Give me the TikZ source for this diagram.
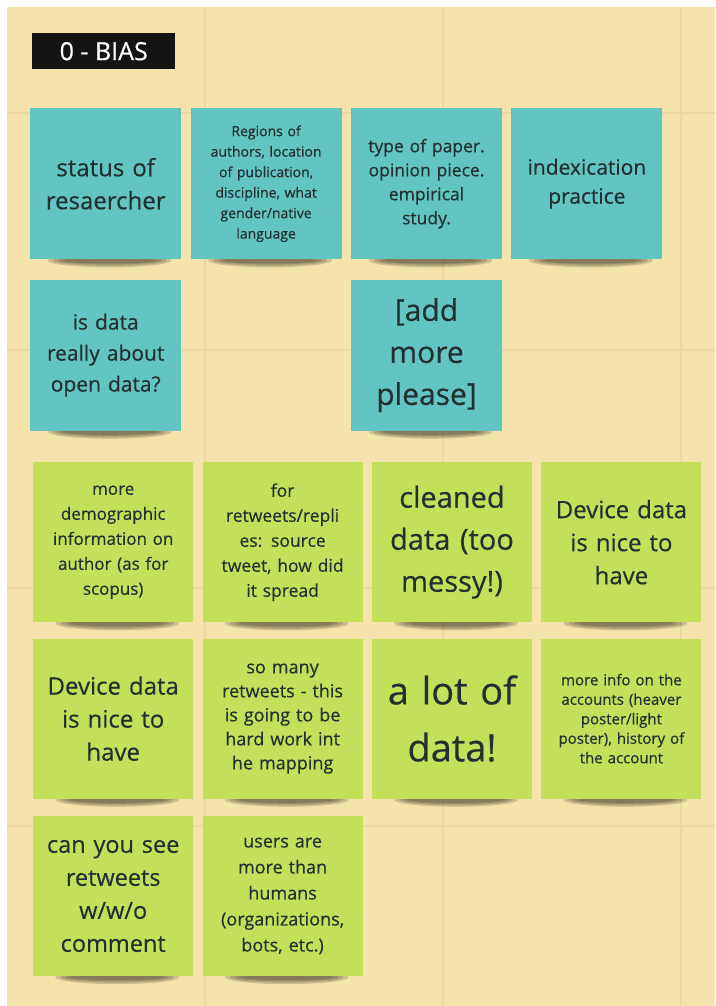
\documentclass[tikz,border=0pt]{standalone}
\usepackage{fontspec}
\setmainfont{Open Sans}[FakeBold=0.4]
\usepackage{xcolor}
\usepackage{tikz}
\usetikzlibrary{positioning}
\pgfdeclarelayer{background}
\pgfsetlayers{background,main}
\definecolor{boardYellow}{HTML}{F4E4AC}
\definecolor{boardGrid}{HTML}{EAD89E}
\definecolor{noteTeal}{HTML}{62C4C3}
\definecolor{noteGreen}{HTML}{C4E05A}
\definecolor{noteInk}{HTML}{223030}
\definecolor{noteShade}{HTML}{3A3322}
\tikzset{
  tealnote/.style={rectangle, fill=noteTeal, text=noteInk, align=center, inner sep=0pt, minimum width=151pt, minimum height=151pt, text width=146pt},
  greennote/.style={rectangle, fill=noteGreen, text=noteInk, align=center, inner sep=0pt, minimum width=160pt, minimum height=160pt, text width=155pt},
  titlebox/.style={rectangle, fill=black!92, text=white, inner sep=0pt, minimum width=143pt, minimum height=36pt, font=\fontsize{25}{28}\selectfont},
  gridline/.style={draw=boardGrid, line width=1.5pt},
  shade/.style={fill=noteShade, opacity=0.2}
}

\begin{document}
\begin{tikzpicture}[x=1pt, y=-1pt, node distance=20pt and 9pt]
  \useasboundingbox (0,0) rectangle (715,1006);
  \begin{pgfonlayer}{background}
    \fill[white] (0,0) rectangle (715,1006);
    \fill[boardYellow] (7,7) rectangle (715,1006);
    \foreach \gy in {113,350,588,826} \draw[gridline] (7,\gy) -- (715,\gy);
    \foreach \gx in {205,443,681} \draw[gridline] (\gx,7) -- (\gx,1006);
  \end{pgfonlayer}

  \node[titlebox, anchor=north west] (title) at (32,33) {0 - BIAS};

  % teal notes
  \node[tealnote, anchor=north west, font=\fontsize{24}{33}\selectfont] (status) at (30,108) {status of\\resaercher};
  \node[tealnote, right=of status, font=\fontsize{14}{20.5}\selectfont] (regions) {Regions of\\authors, location\\of publication,\\discipline, what\\gender/native\\language};
  \node[tealnote, right=of regions, font=\fontsize{17.5}{24}\selectfont] (papertype) {type of paper.\\opinion piece.\\empirical\\study.};
  \node[tealnote, right=of papertype, font=\fontsize{21}{29}\selectfont] (indexing) {indexication\\practice};
  \node[tealnote, below=of status, font=\fontsize{21}{31}\selectfont] (opendata) {is data\\really about\\open data?};
  \node[tealnote, below=of papertype, font=\fontsize{30}{42}\selectfont] (addmore) {[add\\more\\please]};

  % green notes
  \node[greennote, anchor=north west, font=\fontsize{17}{25}\selectfont] (demographic) at (33,462) {more\\demographic\\information on\\author (as for\\scopus)};
  \node[greennote, right=of demographic, font=\fontsize{17.5}{25}\selectfont] (replies) {for\\retweets/repli\\es: source\\tweet, how did\\it spread};
  \node[greennote, right=of replies, font=\fontsize{29}{42}\selectfont] (cleaned) {cleaned\\data (too\\messy!)};
  \node[greennote, right=of cleaned, font=\fontsize{24}{33}\selectfont] (device) {Device data\\is nice to\\have};
  \node[greennote, below=16pt of demographic, font=\fontsize{24}{33}\selectfont] (devicetwo) {Device data\\is nice to\\have};
  \node[greennote, right=of devicetwo, font=\fontsize{18}{24}\selectfont] (mapping) {so many\\retweets - this\\is going to be\\hard work int\\he mapping};
  \node[greennote, right=of mapping, font=\fontsize{38}{57}\selectfont] (lotdata) {a lot of\\data!};
  \node[greennote, right=of lotdata, font=\fontsize{15}{19.5}\selectfont] (accounts) {more info on the\\accounts (heaver\\poster/light\\poster), history of\\the account};
  \node[greennote, below=17pt of devicetwo, font=\fontsize{23.5}{33}\selectfont] (comment) {can you see\\retweets\\w/w/o\\comment};
  \node[greennote, right=of comment, font=\fontsize{18}{26}\selectfont] (humans) {users are\\more than\\humans\\(organizations,\\bots, etc.)};

  % shadows under the notes
  \begin{pgfonlayer}{background}
    \foreach \n in {status,regions,papertype,indexing,opendata,addmore,demographic,replies,cleaned,device,devicetwo,mapping,lotdata,accounts,comment,humans}
      \foreach \r/\h in {62/7,57/5.5,52/4,47/3}
        \fill[shade] ([xshift=4pt,yshift=-1pt]\n.south) ellipse [x radius=\r, y radius=\h];
  \end{pgfonlayer}
\end{tikzpicture}
\end{document}
